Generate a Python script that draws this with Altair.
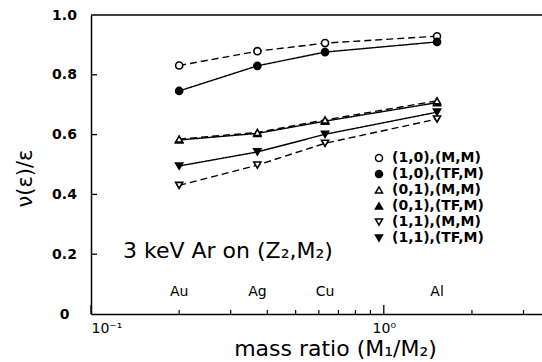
import altair as alt
import pandas as pd

# Targets and Ar/target mass ratios
targets = ["Au", "Ag", "Cu", "Al"]
mass_ratio = [0.2, 0.37, 0.63, 1.52]

# Series: (spin pair), (potential model)
series_names = ["(1,0),(M,M)", "(1,0),(TF,M)", "(0,1),(M,M)",
                "(0,1),(TF,M)", "(1,1),(M,M)", "(1,1),(TF,M)"]
nu_10_mm = [0.831, 0.879, 0.906, 0.929]
nu_10_tf = [0.746, 0.830, 0.876, 0.910]
nu_01_mm = [0.585, 0.607, 0.649, 0.713]
nu_01_tf = [0.582, 0.604, 0.645, 0.707]
nu_11_mm = [0.430, 0.498, 0.571, 0.652]
nu_11_tf = [0.495, 0.542, 0.601, 0.675]
series_values = [nu_10_mm, nu_10_tf, nu_01_mm, nu_01_tf, nu_11_mm, nu_11_tf]

shapes = ["circle", "circle", "triangle-up", "triangle-up", "triangle-down", "triangle-down"]
fills = ["white", "black", "white", "black", "white", "black"]
sizes = [50, 50, 105, 105, 105, 105]

x_ticks_major = [0.1, 1.0]
x_ticks_minor = [0.2, 0.3, 0.4, 0.5, 0.6, 0.7, 0.8, 0.9, 2.0, 3.0]
y_ticks = [0.2, 0.4, 0.6, 0.8]

rows = []
# filled (0,1) markers go first so the open ones sit on top
draw_order = [0, 1, 3, 2, 5, 4]
for i in draw_order:
    name = series_names[i]
    model = "M,M" if name.endswith("(M,M)") else "TF,M"
    for t, r, v in zip(targets, mass_ratio, series_values[i]):
        rows.append({"series": name, "model": model, "target": t, "ratio": r, "nu": v})
df = pd.DataFrame(rows)

W, H = 451, 299
xscale = alt.Scale(type="log", domain=[0.1, 3.47], nice=False)
yscale = alt.Scale(domain=[0, 1.0], nice=False)
FONT = "DejaVu Sans"

x_enc = alt.X("ratio:Q", scale=xscale, axis=alt.Axis(
    values=x_ticks_major, tickSize=0, grid=False,
    labelExpr="datum.value < 0.5 ? '10⁻¹' : '10⁰'",
    labelFontSize=14, labelPadding=7, labelColor="black", labelFlush=True,
    domainColor="black", domainWidth=1.5,
    title="mass ratio (M₁/M₂)", titleFontSize=22, titleFontWeight="normal",
    titleColor="black", titleX=244, titleY=41, titleAnchor="middle",
    titleAlign="center", titleBaseline="alphabetic"))
y_enc = alt.Y("nu:Q", scale=yscale, axis=alt.Axis(
    values=[0, 0.2, 0.4, 0.6, 0.8, 1.0], tickSize=0, grid=False,
    labelExpr="datum.value == 0 ? '0' : format(datum.value, '.1f')",
    labelFontSize=14, labelFontWeight="bold", labelAlign="center",
    labelPadding=27, labelColor="black",
    domainColor="black", domainWidth=1.5,
    title="ν(ε)/ε", titleFontSize=21, titleFontWeight="normal",
    titleColor="black", titleX=-66, titleY=163, titleAngle=-90,
    titleAlign="center", titleBaseline="middle"))

lines = alt.Chart(df).mark_line(color="black", strokeWidth=1.4).encode(
    x=x_enc, y=y_enc, detail="series:N",
    strokeDash=alt.StrokeDash("model:N", scale=alt.Scale(
        domain=["M,M", "TF,M"], range=[[7, 4], [1, 0]]), legend=None),
)

legend = alt.Legend(title=None, orient="none", legendX=281, legendY=136,
                    labelFontSize=14, labelFontWeight="bold", labelFont=FONT,
                    labelColor="black", symbolStrokeWidth=1.5, labelOffset=6,
                    rowPadding=2, padding=0)

points = alt.Chart(df).mark_point(strokeWidth=1.6, opacity=1).encode(
    x="ratio:Q", y="nu:Q",
    shape=alt.Shape("series:N", scale=alt.Scale(domain=series_names, range=shapes), legend=legend),
    fill=alt.Fill("series:N", scale=alt.Scale(domain=series_names, range=fills), legend=legend),
    stroke=alt.Stroke("series:N", scale=alt.Scale(domain=series_names, range=["black"] * 6), legend=legend),
    size=alt.Size("series:N", scale=alt.Scale(domain=series_names, range=sizes), legend=legend),
)

tdf = pd.DataFrame({"target": targets, "ratio": mass_ratio})
target_labels = alt.Chart(tdf).mark_text(fontSize=14, font=FONT, color="black",
                                          baseline="middle").encode(
    x="ratio:Q", y=alt.value(277), text="target:N")

note = alt.Chart(pd.DataFrame({"t": ["3 keV Ar on (Z₂,M₂)"]})).mark_text(
    fontSize=22, font=FONT, color="black", align="left", baseline="alphabetic").encode(
    x=alt.value(32), y=alt.value(243), text="t:N")

major = alt.Chart(pd.DataFrame({"ratio": x_ticks_major})).mark_rule(color="black", strokeWidth=1.3).encode(
    x="ratio:Q", y=alt.value(H), y2=alt.value(H - 9))
minor = alt.Chart(pd.DataFrame({"ratio": x_ticks_minor})).mark_rule(color="black", strokeWidth=1.2).encode(
    x="ratio:Q", y=alt.value(H), y2=alt.value(H - 4))
yt = alt.Chart(pd.DataFrame({"nu": y_ticks})).mark_rule(color="black", strokeWidth=1.3).encode(
    y="nu:Q", x=alt.value(0), x2=alt.value(6))
top = alt.Chart(pd.DataFrame({"nu": [1.0]})).mark_rule(color="black", strokeWidth=1.5).encode(
    y="nu:Q", x=alt.value(0), x2=alt.value(W))

chart = alt.layer(lines, points, target_labels, note, major, minor, yt, top).properties(
    width=W, height=H,
    autosize=alt.AutoSizeParams(type="none"),
    padding={"left": 91, "top": 15, "right": 0, "bottom": 48},
    background="white",
).configure_view(stroke=None).configure_axis(labelFont=FONT, titleFont=FONT)

chart.save("out.html", embed_options={"renderer": "svg", "actions": False})
